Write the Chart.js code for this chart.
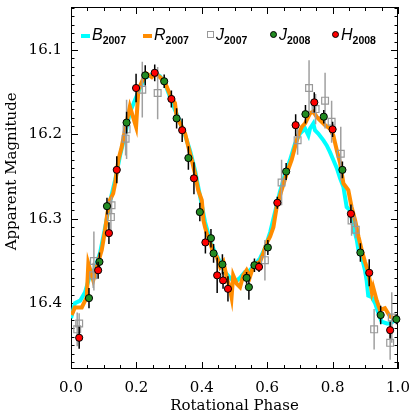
<!DOCTYPE html>
<html>
<head>
<meta charset="utf-8">
<script src="https://cdn.jsdelivr.net/npm/chart.js@4/dist/chart.umd.min.js"></script>
<style>
  html, body { margin: 0; padding: 0; background: #fff; }
  #wrap { position: relative; width: 415px; height: 415px; }
  .item { position: absolute; top: 26px; height: 20px; white-space: nowrap; font-family: "Liberation Sans", Arial, sans-serif; color: #000; }
  .item i { font-size: 16px; font-style: italic; }
  .item sub { font-size: 10.5px; font-weight: bold; font-style: normal; vertical-align: -4px; line-height: 0; }
  .mk { display: inline-block; vertical-align: 2px; margin-right: 2px; box-sizing: border-box; }
  .dash { width: 9px; height: 4px; }
  .sq { width: 7px; height: 7px; border: 1px solid #999; }
  .dot { width: 7px; height: 7px; border-radius: 50%; border: 1px solid #000; }
</style>
</head>
<body>
<div id="wrap">
  <canvas id="chart" width="415" height="415"></canvas>
  <div class="item" style="left:81px"><span class="mk dash" style="background:#00ffff"></span><i>B</i><sub>2007</sub></div>
  <div class="item" style="left:143px"><span class="mk dash" style="background:#ff8c00"></span><i>R</i><sub>2007</sub></div>
  <div class="item" style="left:207px"><span class="mk sq"></span><i>J</i><sub>2007</sub></div>
  <div class="item" style="left:270px"><span class="mk dot" style="background:#228b22"></span><i>J</i><sub>2008</sub></div>
  <div class="item" style="left:332px"><span class="mk dot" style="background:#ff0000"></span><i>H</i><sub>2008</sub></div>
</div>
<script>
// B-band 2007 light curve
var bPhase = [0.000, 0.012, 0.028, 0.043, 0.058, 0.073, 0.089, 0.104, 0.119, 0.135, 0.150, 0.165, 0.180, 0.196, 0.211, 0.226, 0.242, 0.257, 0.272, 0.287, 0.303, 0.318, 0.333, 0.349, 0.364, 0.379, 0.394, 0.410, 0.425, 0.440, 0.456, 0.471, 0.486, 0.502, 0.517, 0.532, 0.547, 0.563, 0.578, 0.593, 0.609, 0.624, 0.639, 0.654, 0.670, 0.685, 0.700, 0.716, 0.726, 0.731, 0.741, 0.746, 0.756, 0.772, 0.782, 0.792, 0.802, 0.813, 0.823, 0.833, 0.838, 0.843, 0.853, 0.863, 0.874, 0.879, 0.889, 0.899, 0.904, 0.909, 0.920, 0.930, 0.940, 0.950, 0.966, 0.976, 0.991, 1.000];
var bMag = [16.418, 16.400, 16.397, 16.387, 16.367, 16.359, 16.340, 16.311, 16.280, 16.254, 16.225, 16.201, 16.174, 16.159, 16.145, 16.133, 16.130, 16.127, 16.131, 16.139, 16.156, 16.171, 16.185, 16.201, 16.219, 16.242, 16.272, 16.304, 16.325, 16.340, 16.351, 16.363, 16.370, 16.375, 16.370, 16.363, 16.361, 16.354, 16.347, 16.335, 16.316, 16.292, 16.268, 16.248, 16.230, 16.211, 16.199, 16.193, 16.201, 16.193, 16.187, 16.195, 16.199, 16.207, 16.213, 16.221, 16.230, 16.240, 16.252, 16.262, 16.274, 16.286, 16.290, 16.308, 16.325, 16.337, 16.345, 16.361, 16.373, 16.391, 16.393, 16.400, 16.412, 16.422, 16.424, 16.424, 16.420, 16.418];

// R-band 2007 light curve
var rPhase = [0.002, 0.012, 0.033, 0.048, 0.053, 0.068, 0.079, 0.094, 0.104, 0.111, 0.119, 0.129, 0.135, 0.145, 0.155, 0.165, 0.180, 0.199, 0.206, 0.221, 0.232, 0.247, 0.257, 0.272, 0.287, 0.303, 0.318, 0.323, 0.339, 0.349, 0.359, 0.369, 0.379, 0.389, 0.400, 0.405, 0.410, 0.415, 0.425, 0.435, 0.446, 0.456, 0.466, 0.476, 0.486, 0.491, 0.496, 0.507, 0.517, 0.527, 0.537, 0.547, 0.557, 0.568, 0.578, 0.588, 0.598, 0.609, 0.619, 0.629, 0.644, 0.660, 0.675, 0.685, 0.695, 0.706, 0.716, 0.726, 0.731, 0.741, 0.751, 0.761, 0.777, 0.792, 0.802, 0.813, 0.823, 0.833, 0.848, 0.858, 0.869, 0.879, 0.889, 0.899, 0.909, 0.920, 0.924, 0.935, 0.945, 0.960, 0.976, 0.991, 1.000];
var rMag = [16.414, 16.405, 16.405, 16.393, 16.353, 16.373, 16.357, 16.337, 16.314, 16.294, 16.278, 16.270, 16.258, 16.230, 16.215, 16.195, 16.167, 16.191, 16.147, 16.134, 16.128, 16.132, 16.128, 16.132, 16.138, 16.153, 16.163, 16.179, 16.191, 16.199, 16.215, 16.230, 16.246, 16.266, 16.278, 16.302, 16.310, 16.317, 16.327, 16.341, 16.345, 16.357, 16.351, 16.369, 16.383, 16.393, 16.367, 16.377, 16.381, 16.367, 16.361, 16.369, 16.357, 16.353, 16.351, 16.341, 16.329, 16.321, 16.310, 16.286, 16.266, 16.246, 16.230, 16.215, 16.201, 16.191, 16.187, 16.179, 16.175, 16.173, 16.179, 16.183, 16.189, 16.193, 16.201, 16.219, 16.234, 16.258, 16.266, 16.286, 16.302, 16.321, 16.337, 16.351, 16.363, 16.387, 16.381, 16.397, 16.408, 16.406, 16.416, 16.418, 16.420];

// J-band 2007 points
var j07Phase = [0.019, 0.025, 0.068, 0.070, 0.122, 0.124, 0.167, 0.170, 0.218, 0.265, 0.593, 0.644, 0.693, 0.728, 0.748, 0.777, 0.797, 0.825, 0.858, 0.871, 0.927, 0.976, 0.981];
var j07Mag = [16.431, 16.424, 16.367, 16.350, 16.298, 16.284, 16.205, 16.194, 16.147, 16.151, 16.349, 16.257, 16.207, 16.145, 16.170, 16.160, 16.185, 16.223, 16.302, 16.313, 16.431, 16.447, 16.417];
var j07Err = [0.020, 0.012, 0.015, 0.035, 0.020, 0.010, 0.020, 0.035, 0.033, 0.031, 0.024, 0.027, 0.017, 0.033, 0.018, 0.033, 0.025, 0.032, 0.018, 0.010, 0.024, 0.020, 0.030];

// J-band 2008 points
var j08Phase = [0.055, 0.087, 0.110, 0.170, 0.227, 0.285, 0.323, 0.359, 0.394, 0.428, 0.436, 0.463, 0.537, 0.544, 0.561, 0.602, 0.658, 0.717, 0.773, 0.830, 0.885, 0.947, 0.995];
var j08Mag = [16.394, 16.351, 16.285, 16.186, 16.130, 16.137, 16.181, 16.228, 16.292, 16.323, 16.341, 16.354, 16.370, 16.381, 16.355, 16.334, 16.244, 16.176, 16.179, 16.242, 16.340, 16.414, 16.419];
var j08Err = [0.012, 0.011, 0.010, 0.013, 0.012, 0.008, 0.012, 0.014, 0.011, 0.011, 0.011, 0.012, 0.007, 0.015, 0.008, 0.009, 0.010, 0.011, 0.008, 0.010, 0.011, 0.011, 0.006];

// H-band 2008 points
var h08Phase = [0.025, 0.083, 0.116, 0.140, 0.199, 0.256, 0.307, 0.340, 0.376, 0.411, 0.447, 0.465, 0.480, 0.575, 0.631, 0.687, 0.744, 0.800, 0.856, 0.912, 0.976];
var h08Mag = [16.441, 16.361, 16.317, 16.242, 16.145, 16.127, 16.158, 16.195, 16.252, 16.328, 16.367, 16.373, 16.383, 16.357, 16.281, 16.189, 16.162, 16.194, 16.294, 16.364, 16.432];
var h08Err = [0.013, 0.010, 0.013, 0.016, 0.017, 0.010, 0.010, 0.014, 0.019, 0.013, 0.021, 0.010, 0.015, 0.006, 0.007, 0.013, 0.012, 0.009, 0.011, 0.016, 0.010];

// Axis ticks
var xTicks = [0.0, 0.2, 0.4, 0.6, 0.8, 1.0];
var yTicks = [16.1, 16.2, 16.3, 16.4];

function pts(xs, ys) {
  return xs.map(function (v, i) { return { x: v, y: ys[i] }; });
}

// vertical error bars, drawn just under each point set
var errorBars = {
  id: 'errorBars',
  beforeDatasetDraw: function (chart, args) {
    var ds = chart.data.datasets[args.index];
    if (!ds.errors) return;
    var ctx = chart.ctx, x = chart.scales.x, y = chart.scales.y;
    ctx.save();
    ctx.strokeStyle = ds.errColor;
    ctx.lineWidth = 1.5;
    ctx.beginPath();
    ds.data.forEach(function (p, i) {
      var px = x.getPixelForValue(p.x);
      ctx.moveTo(px, y.getPixelForValue(p.y - ds.errors[i]));
      ctx.lineTo(px, y.getPixelForValue(p.y + ds.errors[i]));
    });
    ctx.stroke();
    ctx.restore();
  }
};

// box frame with inward ticks on all four sides
var frameTicks = {
  id: 'frameTicks',
  beforeDatasetsDraw: function (chart) {
    var ctx = chart.ctx, a = chart.chartArea, x = chart.scales.x, y = chart.scales.y;
    ctx.save();
    ctx.strokeStyle = '#000';
    ctx.lineWidth = 1;
    ctx.strokeRect(a.left + 0.5, a.top + 0.5, a.right - a.left - 1, a.bottom - a.top - 1);
    ctx.beginPath();
    var i, v, p, len;
    for (i = 0; i <= 20; i++) {
      v = i * 0.05;
      p = Math.round(x.getPixelForValue(v)) + 0.5;
      len = i % 4 === 0 ? 7 : 4;
      ctx.moveTo(p, a.bottom); ctx.lineTo(p, a.bottom - len);
      ctx.moveTo(p, a.top); ctx.lineTo(p, a.top + len);
    }
    for (i = 1605; i <= 1647; i++) {
      v = i / 100;
      p = Math.round(y.getPixelForValue(v)) + 0.5;
      if (p < a.top || p > a.bottom) continue;
      len = i % 10 === 0 ? 7 : 3.5;
      ctx.moveTo(a.left, p); ctx.lineTo(a.left + len, p);
      ctx.moveTo(a.right, p); ctx.lineTo(a.right - len, p);
    }
    ctx.stroke();
    ctx.restore();
  }
};

var serif = 'DejaVu Serif';

new Chart(document.getElementById('chart'), {
  type: 'scatter',
  data: {
    datasets: [
      { label: 'B2007', data: pts(bPhase, bMag), showLine: true, borderColor: '#00ffff', borderWidth: 4, pointRadius: 0, order: 5 },
      { label: 'R2007', data: pts(rPhase, rMag), showLine: true, borderColor: '#ff8c00', borderWidth: 4, pointRadius: 0, order: 4 },
      { label: 'J2007', data: pts(j07Phase, j07Mag), errors: j07Err, errColor: '#a0a0a0', pointStyle: 'rect', pointRadius: 4.8, borderColor: '#999', borderWidth: 1.2, backgroundColor: 'rgba(0,0,0,0)', clip: false, order: 3 },
      { label: 'J2008', data: pts(j08Phase, j08Mag), errors: j08Err, errColor: '#000', pointRadius: 3.6, borderColor: '#000', borderWidth: 1, backgroundColor: '#228b22', clip: false, order: 2 },
      { label: 'H2008', data: pts(h08Phase, h08Mag), errors: h08Err, errColor: '#000', pointRadius: 3.6, borderColor: '#000', borderWidth: 1, backgroundColor: '#ff0000', clip: false, order: 1 }
    ]
  },
  options: {
    responsive: false,
    animation: false,
    layout: { padding: { left: 0, top: 7, right: 17, bottom: 0 } },
    plugins: { legend: { display: false }, tooltip: { enabled: false } },
    scales: {
      x: {
        type: 'linear', min: 0, max: 1,
        grid: { display: false, drawTicks: false },
        border: { display: false },
        afterFit: function (s) { s.height = 46; s.paddingLeft = 0; s.paddingRight = 0; },
        afterBuildTicks: function (s) { s.ticks = xTicks.map(function (v) { return { value: v }; }); },
        ticks: { padding: 10, color: '#000', font: { family: serif, size: 15 }, callback: function (v) { return v.toFixed(1); } },
        title: { display: true, text: 'Rotational Phase', color: '#000', font: { family: serif, size: 15 }, padding: { top: 0, bottom: 0 } }
      },
      y: {
        type: 'linear', reverse: true, min: 16.049, max: 16.478,
        grid: { display: false, drawTicks: false },
        border: { display: false },
        afterFit: function (s) { s.width = 71; s.paddingTop = 0; s.paddingBottom = 0; },
        afterBuildTicks: function (s) { s.ticks = yTicks.map(function (v) { return { value: v }; }); },
        ticks: { padding: 9, color: '#000', font: { family: serif, size: 15 }, callback: function (v) { return v.toFixed(1); } },
        title: { display: true, text: '       Apparent Magnitude', color: '#000', font: { family: serif, size: 15 }, padding: { top: 3, bottom: 0 } }
      }
    }
  },
  plugins: [frameTicks, errorBars]
});
</script>
</body>
</html>
